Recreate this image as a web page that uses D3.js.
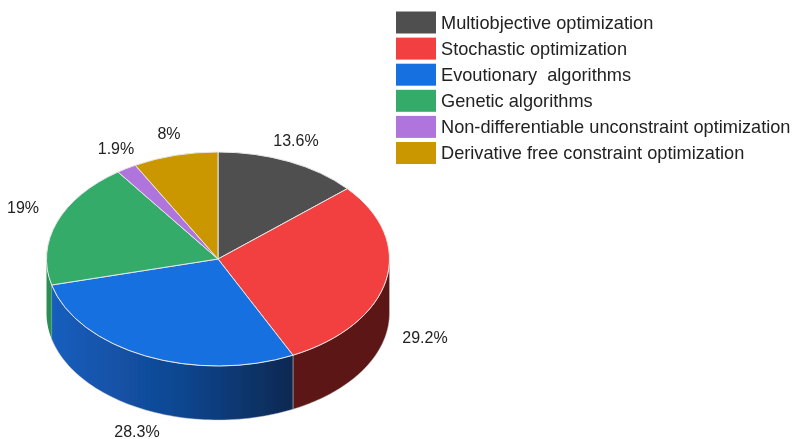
<!DOCTYPE html>
<html><head><meta charset="utf-8">
<script src="https://cdn.jsdelivr.net/npm/d3@7"></script>
<style>html,body{margin:0;padding:0;background:#fff}svg{display:block}text{font-family:"Liberation Sans",Arial,sans-serif;fill:#222}</style>
</head><body><svg id="c" width="793" height="439"></svg>
<script>
const categories = ["Multiobjective optimization","Stochastic optimization","Evoutionary  algorithms","Genetic algorithms","Non-differentiable unconstraint optimization","Derivative free constraint optimization"];
const values = [13.6,29.2,28.3,19,1.9,8];
const valueLabels = ["13.6%","29.2%","28.3%","19%","1.9%","8%"];
const colors = ["#505050","#f24141","#186fe0","#35ab6a","#b075dd","#cb9700"];

const W = {cx:218,cy:259,rx:171.5,ry:107,depth:54};
const labelAt = [[296,140],[425,337],[137,431],[23,207],[116,148],[169,133]];
const svg = d3.select("#c");
const defs = svg.append("defs");
const softF = defs.append("filter").attr("id","soft").attr("filterUnits","userSpaceOnUse").attr("x",0).attr("y",0).attr("width",793).attr("height",439);
softF.append("feGaussianBlur").attr("stdDeviation",0.45);
const grad = defs.append("linearGradient").attr("id","blueSide").attr("gradientUnits","userSpaceOnUse").attr("x1",W.cx-W.rx).attr("x2",293).attr("y1",0).attr("y2",0);
grad.append("stop").attr("offset",0).attr("stop-color","#175fbf");
grad.append("stop").attr("offset",0.55).attr("stop-color","#0f4690");
grad.append("stop").attr("offset",1).attr("stop-color","#0a2852");

const root = svg.append("g").attr("filter","url(#soft)");
const arcs = d3.pie().sort(null).value(d=>d)(values);
const px = a => W.cx + W.rx*Math.sin(a);
const py = a => W.cy - W.ry*Math.cos(a);

// side wall: only the front part of the rim (angles between PI/2 and 3PI/2)
const sideFill = ["#333","#5c1817","url(#blueSide)","#2a8f55","#8a5bb0","#9f7700"];
const rimLine = d3.line();
arcs.forEach((d,i)=>{
  const a0 = Math.max(d.startAngle,Math.PI/2), a1 = Math.min(d.endAngle,Math.PI*1.5);
  if(a1<=a0) return;
  const ang = d3.range(0,61).map(k=>a0+(a1-a0)*k/60);
  const pts = ang.map(a=>[px(a),py(a)]).concat(ang.slice().reverse().map(a=>[px(a),py(a)+W.depth]));
  root.append("path").attr("d",rimLine(pts)+"Z").attr("fill",sideFill[i]).attr("stroke","#c9c9c9").attr("stroke-width",0.6).attr("stroke-opacity",i===3?0:0.8);
});

// top face
const arcGen = d3.arc().innerRadius(0).outerRadius(1);
const topFace = root.append("g").attr("transform",`translate(${W.cx},${W.cy}) scale(${W.rx},${W.ry})`);
topFace.selectAll("path").data(arcs).join("path").attr("d",arcGen).attr("fill",(d,i)=>colors[i])
  .attr("stroke","#e6e6e6").attr("stroke-width",1).attr("vector-effect","non-scaling-stroke");

// value labels
root.selectAll("text.v").data(valueLabels).join("text").attr("class","v")
  .attr("x",(d,i)=>labelAt[i][0]).attr("y",(d,i)=>labelAt[i][1]).attr("dy","0.36em")
  .attr("text-anchor","middle").attr("font-size",16).text(d=>d);

// legend
const ly = d3.scaleLinear().domain([0,1]).range([11.5,37.6]);
const leg = root.selectAll("g.l").data(categories).join("g").attr("class","l").attr("transform",(d,i)=>`translate(396,${ly(i)})`);
leg.append("rect").attr("width",40).attr("height",22).attr("fill",(d,i)=>colors[i]);
leg.append("text").attr("x",45).attr("y",10.5).attr("dy","0.36em").attr("font-size",18.2).style("white-space","pre").text(d=>d);
</script></body></html>
